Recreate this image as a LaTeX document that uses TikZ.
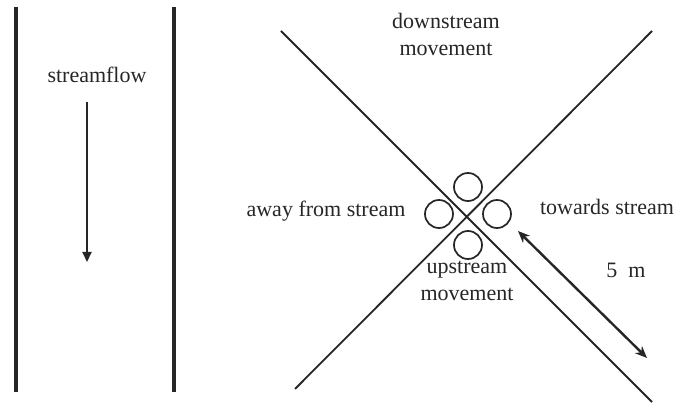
\documentclass[tikz,border=0pt]{standalone}
\usepackage{fontspec}
\setmainfont{Liberation Serif}
\usetikzlibrary{arrows.meta}
\tikzset{
  bank/.style={line width=4pt, color=black!85},
  armline/.style={line width=1.8pt, color=black!85},
  lbl/.style={font=\fontsize{22}{27}\selectfont, text=black!85, inner sep=0pt, align=center},
  trap/.style={circle, draw=black!85, line width=1.7pt, minimum size=28pt, inner sep=0pt},
  flowarrow/.style={line width=2pt, color=black!85, -{Triangle[length=10pt,width=9pt]}},
  distarrow/.style={line width=2.4pt, color=black!85, {Stealth[length=12pt,width=10pt]}-{Stealth[length=12pt,width=10pt]}}
}
\begin{document}
\begin{tikzpicture}[x=1pt,y=-1pt]
\useasboundingbox (0,0) rectangle (689,403);
% stream banks
\coordinate (b1t) at (16,7);
\coordinate (b1b) at (16,392);
\coordinate (b2t) at (174,7);
\coordinate (b2b) at (174,392);
\draw[bank] (b1t) -- (b1b);
\draw[bank] (b2t) -- (b2b);
% streamflow
\node[lbl] (sf) at (97,75) {streamflow};
\coordinate (fa) at (87,102);
\coordinate (fb) at (87,262);
\draw[flowarrow] (fa) -- (fb);
% cross
\coordinate (c) at (467,217);
\coordinate (tl) at (281,31);
\coordinate (tr) at (652,31);
\coordinate (bl) at (295,389);
\coordinate (br) at (652,402);
\draw[armline] (tl) -- (br);
\draw[armline] (tr) -- (bl);
% traps
\node[trap] (ct) at (468,187) {};
\node[trap] (cl) at (439,214) {};
\node[trap] (cr) at (497,214) {};
\node[trap] (cb) at (468,245) {};
% labels
\node[lbl] (down) at (446,34) {downstream\\movement};
\node[lbl] (away) at (326,211) {away from stream};
\node[lbl] (tow) at (607,207) {towards stream};
\node[lbl] (up) at (467,281) {upstream\\movement};
\node[lbl] (five) at (626,270) {5\enspace m};
% distance
\coordinate (da) at (518,231);
\coordinate (db) at (647,358);
\draw[distarrow] (da) -- (db);
\end{tikzpicture}
\end{document}
